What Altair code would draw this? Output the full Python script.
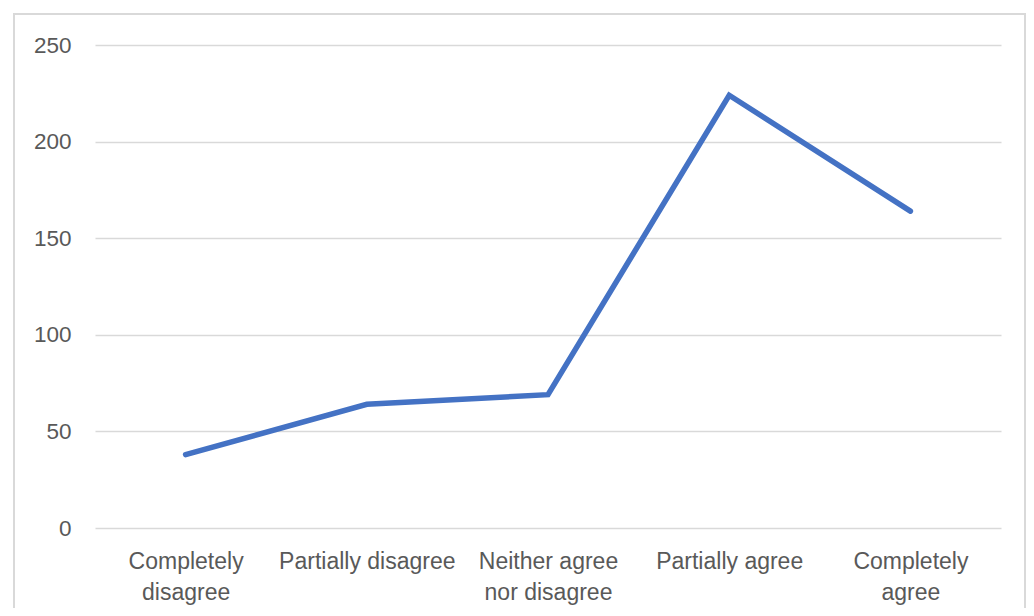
import altair as alt
import pandas as pd

categories = ["Completely disagree", "Partially disagree", "Neither agree nor disagree",
              "Partially agree", "Completely agree"]
values = [38, 64, 69, 224, 164]
label_lines = {
    "Completely disagree": ["Completely", "disagree"],
    "Neither agree nor disagree": ["Neither agree", "nor disagree"],
    "Completely agree": ["Completely", "agree"],
}

df = pd.DataFrame({"category": categories, "value": values})

expr = "datum.value"
for k, v in label_lines.items():
    expr = f"datum.value == '{k}' ? {v} : (" + expr + ")"

FONT = "Liberation Sans"
GRAY = "#595959"

border = alt.Chart(df).mark_rect(fill=None, stroke="#d9d9d9", strokeWidth=1.5).encode(
    x=alt.value(-81), x2=alt.value(930), y=alt.value(-31), y2=alt.value(580)
)

line = alt.Chart(df).mark_line(color="#4472C4", strokeWidth=5.5, strokeCap="round",
                               strokeJoin="miter").encode(
    x=alt.X("category:N", sort=categories, title=None,
            scale=alt.Scale(paddingInner=0, paddingOuter=0.5),
            axis=alt.Axis(labelAngle=0, labelExpr=expr, labelFont=FONT, labelFontSize=23,
                          labelColor=GRAY, ticks=False, domain=False, labelPadding=22,
                          labelLineHeight=31, labelBaseline="top", grid=False)),
    y=alt.Y("value:Q", title=None,
            scale=alt.Scale(domain=[0, 250], nice=False),
            axis=alt.Axis(values=[0, 50, 100, 150, 200, 250], labelFont=FONT, labelFontSize=22.5,
                          labelColor=GRAY, ticks=False, domain=False, labelPadding=24,
                          gridColor="#d9d9d9", gridWidth=1.3)),
)

chart = alt.layer(border, line).properties(
    width=906, height=483,
    autosize=alt.AutoSizeParams(type="none"),
    padding={"left": 87, "top": 37, "right": 25, "bottom": 80},
).configure(background="white").configure_view(strokeWidth=0, stroke="transparent")

chart.save("out.html", embed_options={"renderer": "svg", "actions": False})
